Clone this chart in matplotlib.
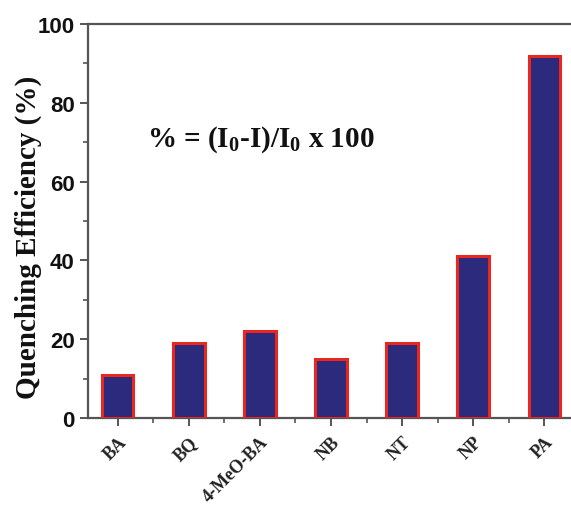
import matplotlib
matplotlib.use("Agg")
import matplotlib.pyplot as plt
from matplotlib.ticker import MultipleLocator, FixedLocator

categories = ["BA", "BQ", "4-MeO-BA", "NB", "NT", "NP", "PA"]
values = [11, 19, 22, 15, 19, 41, 92]
y_ticks = [0, 20, 40, 60, 80, 100]

plt.rcParams['mathtext.fontset'] = 'custom'
plt.rcParams['mathtext.rm'] = 'Liberation Serif:bold'
plt.rcParams['mathtext.it'] = 'Liberation Serif:bold'
plt.rcParams['mathtext.bf'] = 'Liberation Serif:bold'

fig = plt.figure(figsize=(5.71, 5.06), dpi=100)
ax = fig.add_axes([88/571, 87/506, (574-88)/571, 394/506])

x = list(range(len(categories)))
ax.bar(x, values, width=0.44, color="#2B2A7C", edgecolor="#E8271F", linewidth=2.2, zorder=3)

ax.set_xlim(-0.42, len(categories) - 0.58)
ax.set_ylim(0, 100)
ax.set_yticks(y_ticks)
ax.yaxis.set_minor_locator(MultipleLocator(10))
ax.set_xticks(x)
ax.xaxis.set_minor_locator(FixedLocator([i + 0.5 for i in range(len(categories) - 1)]))

spine_col = "#555555"
for s in ["left", "bottom", "top"]:
    ax.spines[s].set_color(spine_col)
    ax.spines[s].set_linewidth(1.6)
ax.spines["right"].set_visible(False)

ax.tick_params(axis="both", which="major", direction="out", length=6, width=1.4, color=spine_col)
ax.tick_params(axis="both", which="minor", direction="out", length=3.5, width=1.2, color=spine_col)
ax.tick_params(axis="x", which="both", top=False)
ax.tick_params(axis="x", which="major", pad=5)
ax.tick_params(axis="y", which="both", right=False)

ax.set_yticklabels([str(v) for v in y_ticks], fontsize=16, fontweight="bold",
                   family="Liberation Sans", color="#111111")
ax.set_xticklabels(categories, rotation=45, ha="right", va="top", rotation_mode="anchor",
                   fontsize=13, fontweight="bold", family="Liberation Serif", color="#222222")

ax.set_ylabel("Quenching Efficiency (%)", fontsize=21, fontweight="bold",
              family="Liberation Serif", color="#111111")
ax.yaxis.set_label_coords(-0.095, 0.462)

ax.text(0.41, 71.0, r"% = (I$_0$-I)/I$_0$ x 100", fontsize=21, fontweight="bold",
        family="Liberation Serif", color="#111111", va="center", ha="left")

fig.savefig("out.png", dpi=100)
